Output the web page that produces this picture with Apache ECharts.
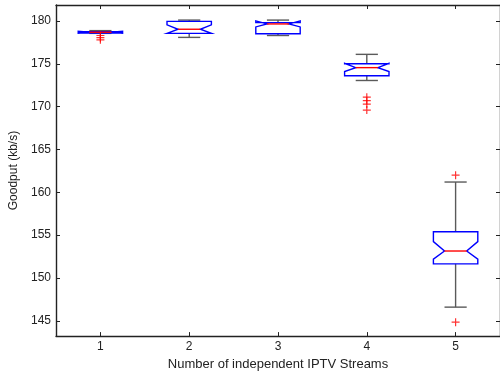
<!DOCTYPE html>
<html>
<head>
<meta charset="utf-8">
<script src="https://cdn.jsdelivr.net/npm/echarts@6/dist/echarts.min.js"></script>
<style>
html,body{margin:0;padding:0;background:#fff;}
#chart{width:500px;height:376px;}
</style>
</head>
<body>
<div id="chart"></div>
<script>
// ---- data ----
var categories   = [1, 2, 3, 4, 5];
var whiskerLow   = [178.55, 178.08, 178.30, 173.05, 146.60];
var quartile1    = [178.60, 178.55, 178.50, 173.60, 151.65];
var notchLow     = [178.56, 178.55, 179.30, 174.10, 152.20];
var medians      = [178.68, 179.03, 179.65, 174.55, 153.15];
var notchHigh    = [178.80, 179.55, 180.00, 175.05, 154.25];
var quartile3    = [178.75, 179.95, 179.80, 175.00, 155.40];
var whiskerHigh  = [178.87, 180.10, 180.10, 176.10, 161.20];
var outlierCat   = [1, 1, 1, 4, 4, 4, 4, 5, 5];
var outlierVal   = [178.30, 178.05, 177.80, 171.10, 170.70, 170.30, 169.60, 162.00, 144.85];
var yTickValues  = [145, 150, 155, 160, 165, 170, 175, 180];
var xTickValues  = [1, 2, 3, 4, 5];

// ---- layout / style constants ----
var BOX_HALF = 0.25, NOTCH_INSET = 0.125, CAP_HALF = 0.125;
var FONT = "'Liberation Sans', Arial, sans-serif";
var FONT_SIZE = 12;
var AXIS_COLOR = '#222';

var boxData = categories.map(function (c, i) {
  return [c, whiskerLow[i], quartile1[i], notchLow[i], medians[i], notchHigh[i], quartile3[i], whiskerHigh[i]];
});
var outlierData = outlierCat.map(function (c, i) { return [c, outlierVal[i]]; });

function renderBox(params, api) {
  var x = api.value(0);
  var wl = api.value(1), q1 = api.value(2), nl = api.value(3), md = api.value(4),
      nh = api.value(5), q3 = api.value(6), wh = api.value(7);
  function P(dx, v) { return api.coord([x + dx, v]); }
  var whiskerStyle = { stroke: '#5a5a5a', lineWidth: 1.4, fill: null };
  var children = [
    { type: 'polyline', shape: { points: [P(0, wh), P(0, q3)] }, style: whiskerStyle },
    { type: 'polyline', shape: { points: [P(0, q1), P(0, wl)] }, style: whiskerStyle },
    { type: 'polyline', shape: { points: [P(-CAP_HALF, wh), P(CAP_HALF, wh)] }, style: whiskerStyle },
    { type: 'polyline', shape: { points: [P(-CAP_HALF, wl), P(CAP_HALF, wl)] }, style: whiskerStyle },
    { type: 'polygon', shape: { points: [
        P(-BOX_HALF, q1), P(-BOX_HALF, nl), P(-BOX_HALF + NOTCH_INSET, md), P(-BOX_HALF, nh), P(-BOX_HALF, q3),
        P(BOX_HALF, q3), P(BOX_HALF, nh), P(BOX_HALF - NOTCH_INSET, md), P(BOX_HALF, nl), P(BOX_HALF, q1)
      ] }, style: { stroke: '#0000ff', lineWidth: 1.4, fill: null } },
    { type: 'polyline', shape: { points: [P(-BOX_HALF + NOTCH_INSET, md), P(BOX_HALF - NOTCH_INSET, md)] },
      style: { stroke: '#ff0000', lineWidth: 1.4, fill: null } }
  ];
  return { type: 'group', children: children };
}

var chart = echarts.init(document.getElementById('chart'), null, { renderer: 'canvas' });
var tickLine = { show: true, inside: true, length: 4, lineStyle: { color: AXIS_COLOR, width: 1 } };
var textStyle = { fontFamily: FONT, fontSize: FONT_SIZE, color: '#222' };
chart.setOption({
  animation: false,
  backgroundColor: '#fff',
  grid: { left: 56, right: -1, top: 5, bottom: 39 },
  xAxis: [
    { type: 'value', min: 0.5, max: 5.5, position: 'bottom',
      name: 'Number of independent IPTV Streams', nameLocation: 'middle', nameGap: 21,
      nameTextStyle: { fontFamily: FONT, fontSize: 13, color: '#222' },
      axisLine: { show: true, onZero: false, lineStyle: { color: AXIS_COLOR, width: 1.4 } },
      axisTick: Object.assign({}, tickLine, { customValues: xTickValues }),
      axisLabel: Object.assign({ customValues: xTickValues, margin: 5 }, textStyle),
      splitLine: { show: false } },
    { type: 'value', min: 0.5, max: 5.5, position: 'top',
      axisLine: { show: true, onZero: false, lineStyle: { color: AXIS_COLOR, width: 1.4 } },
      axisTick: Object.assign({}, tickLine, { customValues: xTickValues }),
      axisLabel: { show: false }, splitLine: { show: false } }
  ],
  yAxis: [
    { type: 'value', min: 143.22, max: 181.86, position: 'left',
      name: 'Goodput (kb/s)', nameLocation: 'middle', nameGap: 34, nameRotate: 90,
      nameTextStyle: textStyle,
      axisLine: { show: true, onZero: false, lineStyle: { color: AXIS_COLOR, width: 1.4 } },
      axisTick: Object.assign({}, tickLine, { customValues: yTickValues }),
      axisLabel: Object.assign({ customValues: yTickValues, margin: 5 }, textStyle),
      splitLine: { show: false } },
    { type: 'value', min: 143.22, max: 181.86, position: 'right',
      axisLine: { show: true, onZero: false, lineStyle: { color: AXIS_COLOR, width: 1.4 } },
      axisTick: Object.assign({}, tickLine, { customValues: yTickValues }),
      axisLabel: { show: false }, splitLine: { show: false } }
  ],
  series: [
    { type: 'custom', xAxisIndex: 0, yAxisIndex: 0, data: boxData, renderItem: renderBox,
      clip: false, silent: true },
    { type: 'scatter', xAxisIndex: 0, yAxisIndex: 0, data: outlierData,
      symbol: 'path://M0,5L10,5M5,0L5,10', symbolSize: 8,
      itemStyle: { color: 'transparent', borderColor: '#ff0000', borderWidth: 1.2 }, silent: true }
  ]
});
</script>
</body>
</html>
